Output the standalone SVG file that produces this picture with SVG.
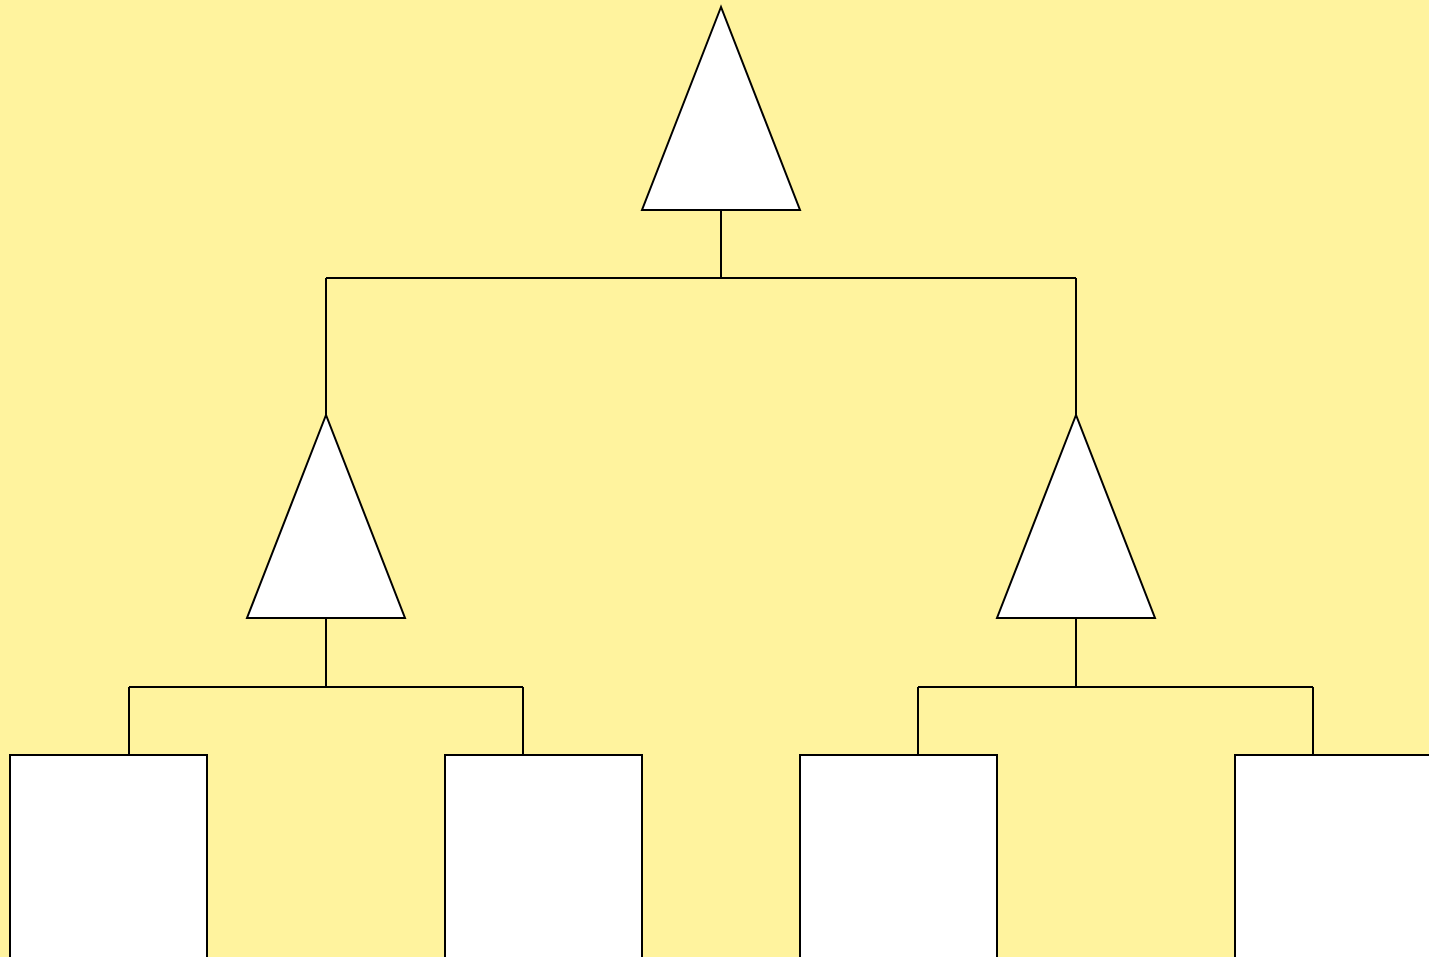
<svg xmlns="http://www.w3.org/2000/svg" width="1429" height="957" viewBox="0 0 1429 957">
<style>
.n{fill:#fff;stroke:#000;stroke-width:2;stroke-linejoin:miter}
.c{fill:none;stroke:#000;stroke-width:2}
</style>
<rect x="0" y="0" width="1429" height="957" fill="#fff39e"/>
<g id="connectors">
<path class="c" d="M721 210V278M326 278H1076M326 278V415M1076 278V415"/>
<path class="c" d="M326 618V687M129 687H523M129 687V754M523 687V754"/>
<path class="c" d="M1076 618V687M918 687H1313M918 687V754M1313 687V754"/>
</g>
<g id="root"><polygon class="n" points="721,7 642,210 800,210"/></g>
<g id="left"><polygon class="n" points="326,415 247,618 405,618"/></g>
<g id="right"><polygon class="n" points="1076,415 997,618 1155,618"/></g>
<g id="leaf1"><rect class="n" x="10" y="755" width="197" height="210"/></g>
<g id="leaf2"><rect class="n" x="445" y="755" width="197" height="210"/></g>
<g id="leaf3"><rect class="n" x="800" y="755" width="197" height="210"/></g>
<g id="leaf4"><rect class="n" x="1235" y="755" width="197" height="210"/></g>
</svg>
